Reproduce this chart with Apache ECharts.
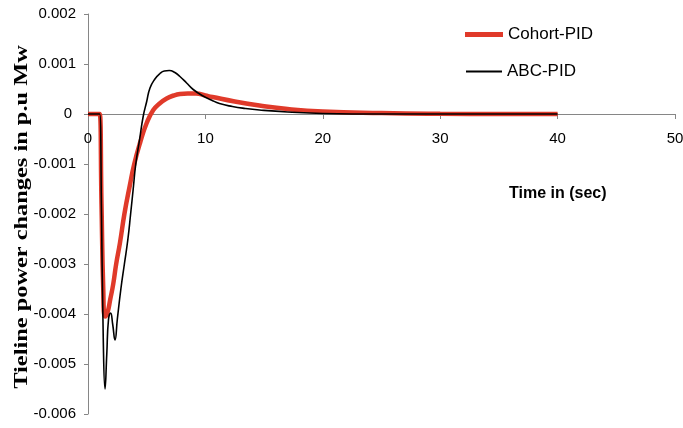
<!DOCTYPE html>
<html><head><meta charset="utf-8">
<script src="https://cdn.jsdelivr.net/npm/echarts@6/dist/echarts.min.js"></script>
<style>html,body{margin:0;padding:0;background:#fff}#c{width:683px;height:428px}</style>
</head><body><div id="c"></div>
<script>
var cohortT = [0, 0.9, 1.0, 1.15, 1.3, 1.45, 1.65, 1.9, 2.15, 2.4, 2.72, 3.1, 3.57, 3.94, 4.43, 5.0, 5.56, 6.1, 6.7, 7.3, 7.83, 8.5, 9.2, 10.0, 10.6, 12.5, 14.6, 17, 20, 25, 30, 35, 40];
var cohortV = [0, 0, 0, -0.0018, -0.0035, -0.00405, -0.00398, -0.0037, -0.0034, -0.003, -0.00258, -0.002, -0.00142, -0.001, -0.00058, -0.00018, 0.00008, 0.00021, 0.00031, 0.00037, 0.0004, 0.00041, 0.00041, 0.00037, 0.00034, 0.00025, 0.00017, 0.0001, 0.00005, 0.00002, 0.000005, 0, 0];
var abcT = [0, 0.9, 1.0, 1.15, 1.3, 1.45, 1.6, 1.75, 1.93, 2.1, 2.3, 2.5, 2.8, 3.1, 3.4, 3.63, 3.85, 4.07, 4.4, 4.7, 5.0, 5.28, 5.7, 6.13, 6.5, 6.92, 7.4, 7.83, 8.4, 8.96, 9.8, 10.5, 11.2, 12.3, 13.4, 14.6, 17, 20, 25, 40];
var abcV = [0, 0, 0, -0.002, -0.0045, -0.0055, -0.0048, -0.0041, -0.00398, -0.0042, -0.00452, -0.0041, -0.0035, -0.003, -0.0025, -0.002, -0.0015, -0.001, -0.0005, -0.00005, 0.00025, 0.00052, 0.0007, 0.00081, 0.00086, 0.00087, 0.00083, 0.00075, 0.00062, 0.00049, 0.00036, 0.00028, 0.00021, 0.00015, 0.00011, 0.00008, 0.00004, 0.00001, 0, 0];
var xTicks = [0, 10, 20, 30, 40, 50];
var yTicks = [-0.006, -0.005, -0.004, -0.003, -0.002, -0.001, 0, 0.001, 0.002];

function pairs(t, v) { return t.map(function (x, i) { return [x, v[i]]; }); }

var gridTop = 14, gridBottom = 14, plotH = 428 - gridTop - gridBottom;
var yMin = -0.006, yMax = 0.002;
// place the x axis at y = 0 of the value axis
var zeroOffset = -plotH * (0 - yMin) / (yMax - yMin);
var lblFont = { fontFamily: 'Liberation Sans', fontSize: 15, color: '#000' };

var chart = echarts.init(document.getElementById('c'));
chart.setOption({
  animation: false,
  grid: { left: 88, right: 8, top: gridTop, bottom: gridBottom, outerBoundsMode: 'none', containLabel: false },
  legend: [{
    orient: 'vertical', left: 465, top: 26, padding: 0, itemWidth: 38, itemHeight: 5, icon: 'rect',
    textStyle: { fontFamily: 'Liberation Sans', fontSize: 17, color: '#000' },
    data: [{ name: 'Cohort-PID', itemStyle: { color: '#e03a2a' } }]
  }, {
    orient: 'vertical', left: 466, top: 63, padding: 0, itemWidth: 36, itemHeight: 2, icon: 'rect',
    textStyle: { fontFamily: 'Liberation Sans', fontSize: 17, color: '#000' },
    data: [{ name: 'ABC-PID', itemStyle: { color: '#000' } }]
  }],
  xAxis: {
    type: 'value', min: 0, max: 50, interval: 10, position: 'bottom', offset: zeroOffset,
    axisLine: { onZero: false, lineStyle: { color: '#868686', width: 1 } },
    axisTick: { show: true, length: 5, lineStyle: { color: '#868686' } },
    axisLabel: Object.assign({ show: true, margin: 17,
      formatter: function (v) { return xTicks.indexOf(v) >= 0 ? String(v) : ''; } }, lblFont),
    splitLine: { show: false }
  },
  yAxis: {
    type: 'value', min: yMin, max: yMax, interval: 0.001,
    axisLine: { show: true, onZero: false, lineStyle: { color: '#868686', width: 1 } },
    axisTick: { show: true, length: 4, lineStyle: { color: '#868686' } },
    axisLabel: Object.assign({ margin: 12,
      rich: { z: Object.assign({ padding: [0, 4, 0, 0] }, lblFont) },
      formatter: function (v) {
        var r = Math.round(v * 1000) / 1000;
        for (var i = 0; i < yTicks.length; i++) {
          if (Math.abs(yTicks[i] - r) < 1e-9) return r === 0 ? '{z|0}' : r.toFixed(3);
        }
        return '';
      } }, lblFont),
    splitLine: { show: false }
  },
  graphic: [{
    type: 'text', x: 22, y: 217, rotation: Math.PI / 2, scaleX: 1.25,
    style: { text: 'Tieline power changes in p.u Mw', fontFamily: 'Liberation Serif', fontWeight: 'bold',
      fontSize: 19.5, fill: '#000', align: 'center', verticalAlign: 'middle' }
  }, {
    type: 'text', left: 509, top: 186,
    style: { text: 'Time in (sec)', fontFamily: 'Liberation Sans', fontWeight: 'bold', fontSize: 16, fill: '#000' }
  }],
  series: [
    { name: 'Cohort-PID', type: 'line', data: pairs(cohortT, cohortV), showSymbol: false, symbol: 'none',
      smooth: 0.5, lineStyle: { color: '#e03a2a', width: 4.5 }, itemStyle: { color: '#e03a2a' }, z: 2 },
    { name: 'ABC-PID', type: 'line', data: pairs(abcT, abcV), showSymbol: false, symbol: 'none',
      smooth: 0.5, lineStyle: { color: '#000', width: 1.6 }, itemStyle: { color: '#000' }, z: 3 }
  ]
});
</script></body></html>
